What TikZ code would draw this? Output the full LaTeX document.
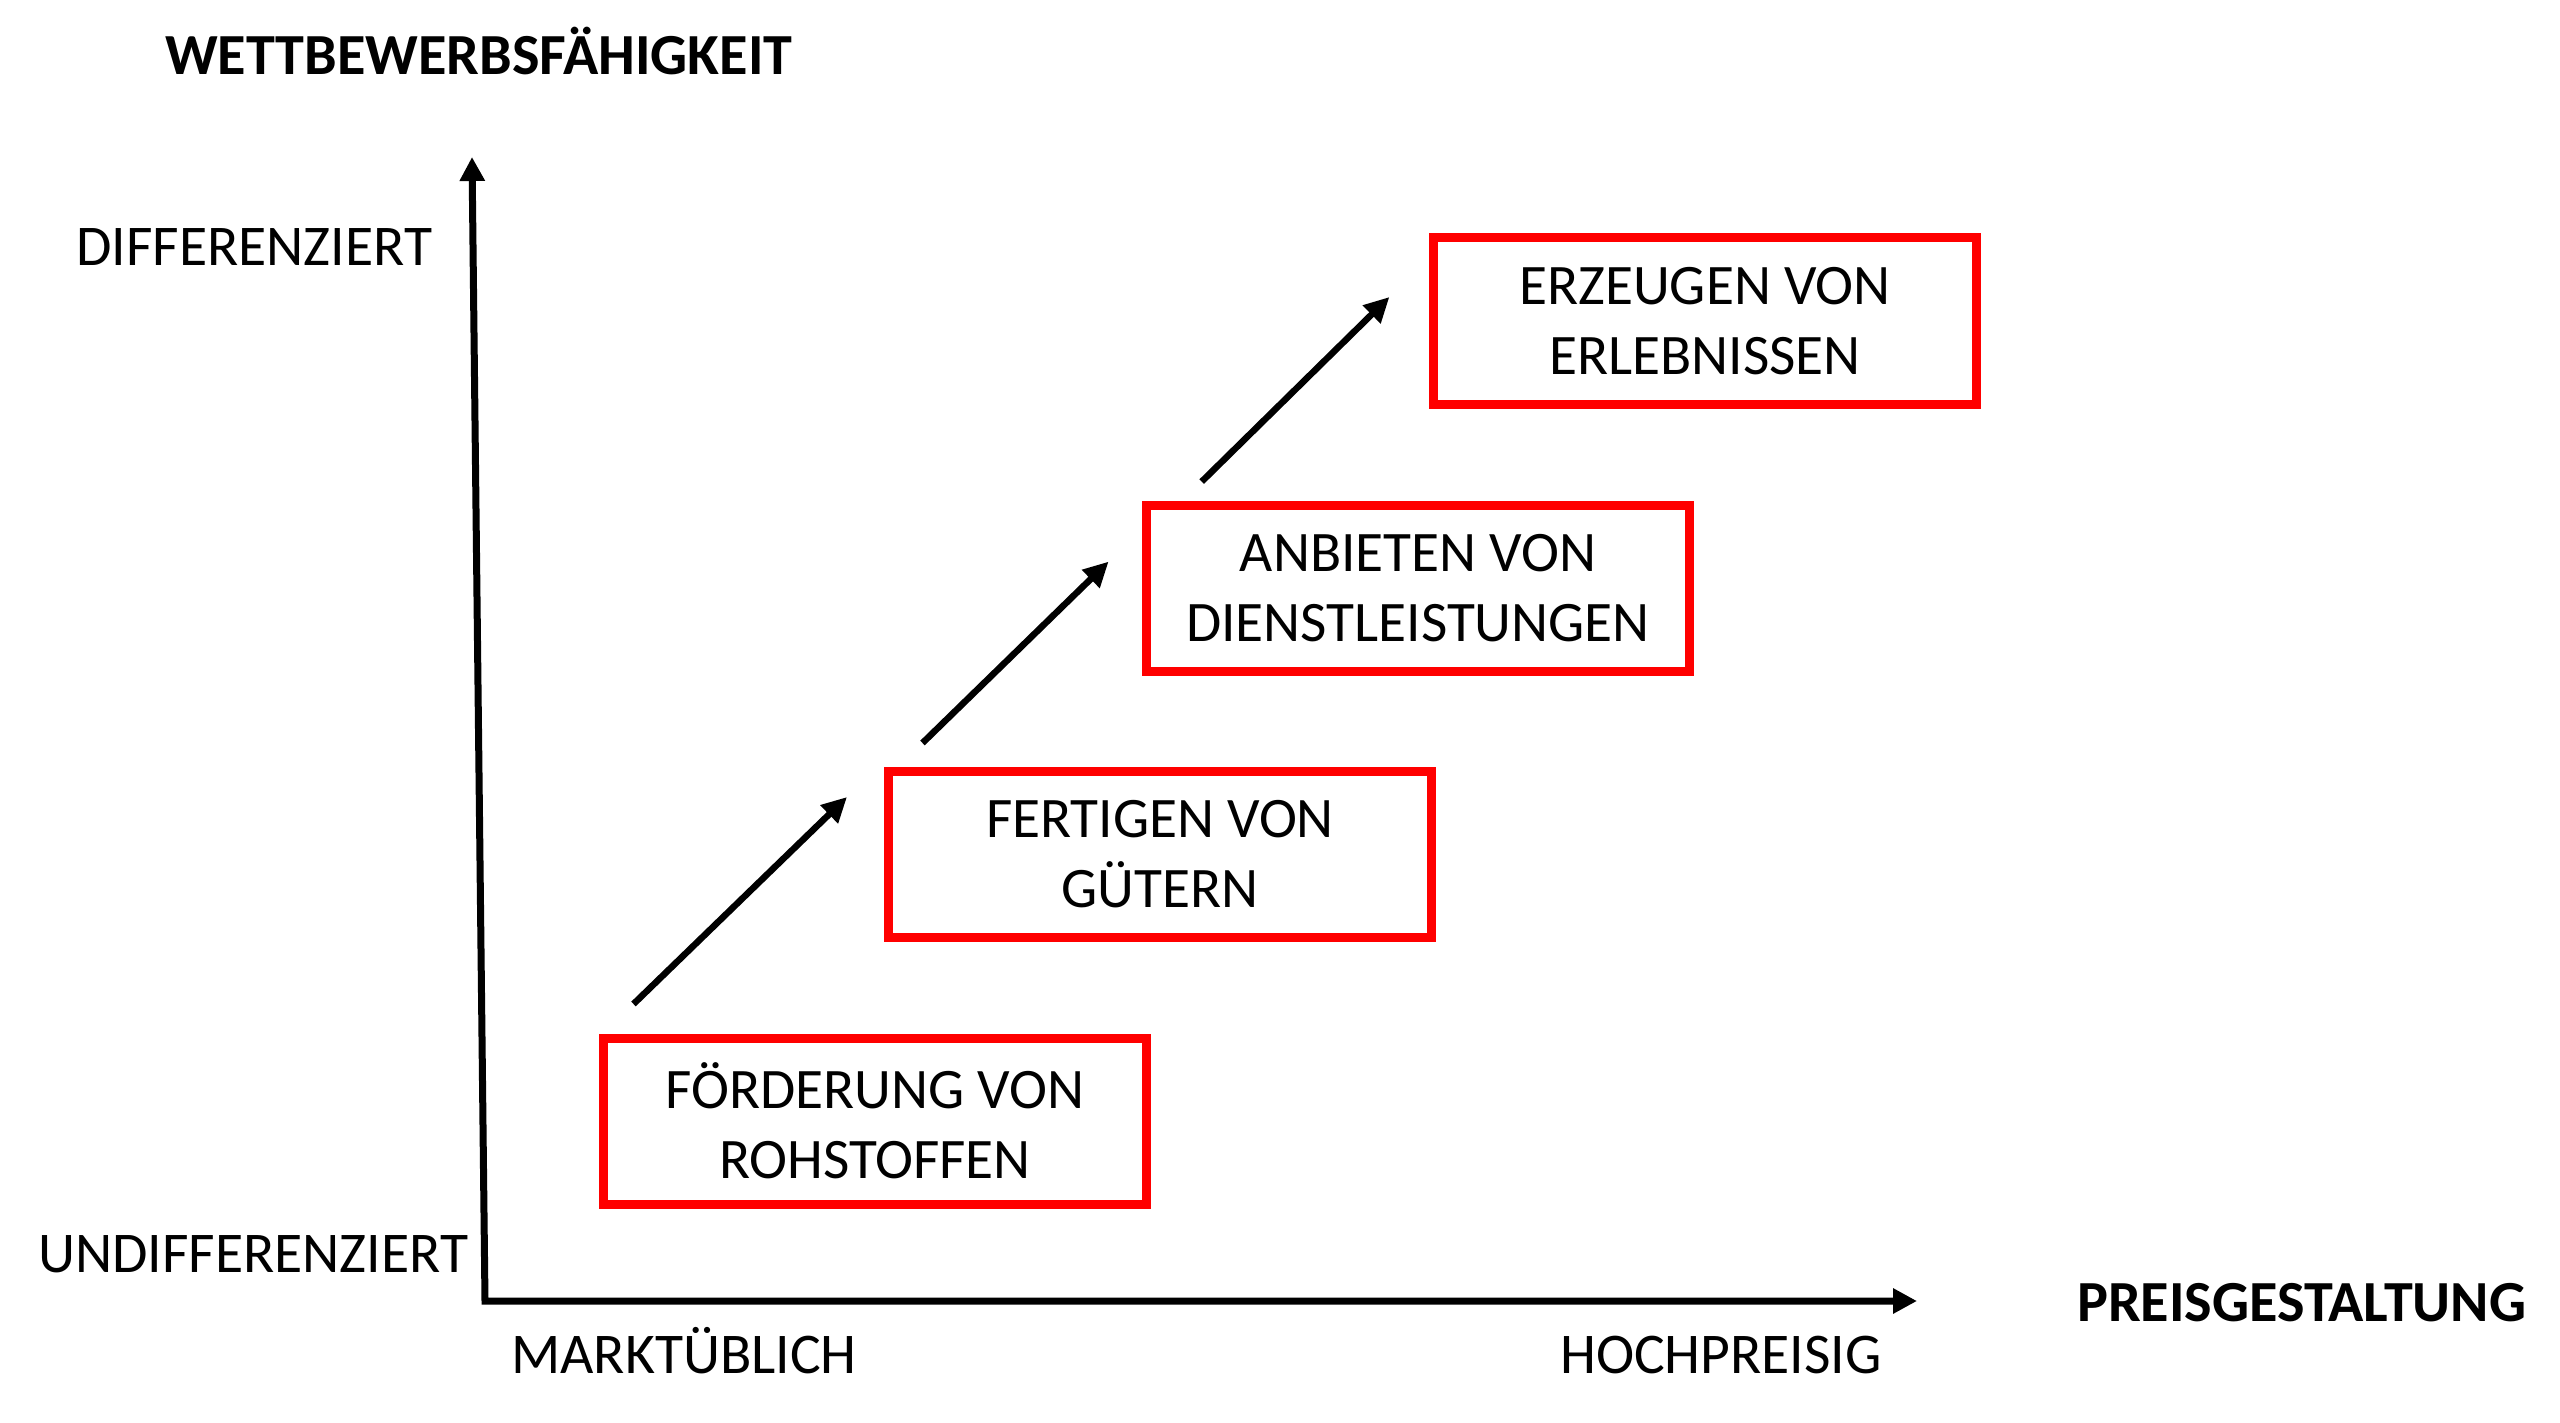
\documentclass[tikz,border=0pt]{standalone}
\usepackage{fontspec}
\setmainfont{Carlito}
\usetikzlibrary{arrows.meta}
\definecolor{boxred}{RGB}{255,0,0}
\tikzset{
  stage/.style={draw=boxred, line width=9pt, minimum width=543pt, minimum height=166pt, inner sep=0pt, align=center, font=\fontsize{57.3}{70}\selectfont},
  lbl/.style={inner sep=0pt, anchor=base west, font=\fontsize{57.6}{68}\selectfont},
  blbl/.style={lbl, font=\fontsize{58.2}{68}\selectfont\bfseries},
  axis/.style={line width=7pt, {Triangle[length=24pt,width=24pt]}-{Triangle[length=24pt,width=24pt]}},
  stepar/.style={line width=6.5pt, -{Triangle[length=25pt,width=24pt]}}
}
\begin{document}
\begin{tikzpicture}[x=1pt,y=-1pt]
\useasboundingbox (0,0) rectangle (2560,1423);
% axes
\coordinate (O) at (485,1301);
\coordinate (Ytip) at (472,157);
\coordinate (Xtip) at (1917,1301);
\draw[axis] (Ytip) -- (O) -- (Xtip);
% labels
\node[blbl] (title) at (165,75) {WETTBEWERBSFÄHIGKEIT};
\node[lbl] (diff) at (76,266) {DIFFERENZIERT};
\node[lbl] (undiff) at (38,1272) {UNDIFFERENZIERT};
\node[lbl] (markt) at (511,1373) {MARKTÜBLICH};
\node[lbl] (hoch) at (1560,1373) {HOCHPREISIG};
\node[blbl] (preis) at (2077,1321) {PREISGESTALTUNG};
% boxes
\node[stage] (b1) at (875,1121) {FÖRDERUNG VON\\ROHSTOFFEN};
\node[stage] (b2) at (1160,854) {FERTIGEN VON\\GÜTERN};
\node[stage] (b3) at (1418,588) {ANBIETEN VON\\DIENSTLEISTUNGEN};
\node[stage] (b4) at (1705,321) {ERZEUGEN VON\\ERLEBNISSEN};
% step arrows
\coordinate (a1s) at (633.5,1004);
\coordinate (a1e) at (847,797);
\coordinate (a2s) at (922.5,743);
\coordinate (a2e) at (1108.6,561.6);
\coordinate (a3s) at (1201.7,481.6);
\coordinate (a3e) at (1389.4,297);
\draw[stepar] (a1s) -- (a1e);
\draw[stepar] (a2s) -- (a2e);
\draw[stepar] (a3s) -- (a3e);
\end{tikzpicture}
\end{document}
